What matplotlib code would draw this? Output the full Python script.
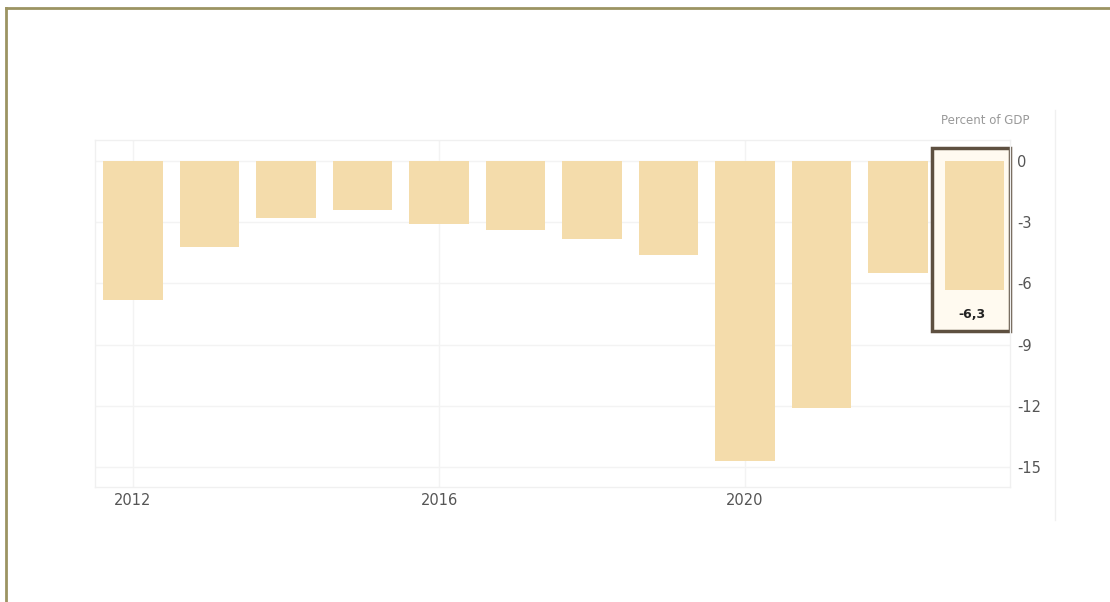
import matplotlib.pyplot as plt
from matplotlib.patches import Rectangle
from matplotlib.lines import Line2D

plt.rcParams['font.family'] = ['DejaVu Sans']

# Budget balance, percent of GDP
years = [2012, 2013, 2014, 2015, 2016, 2017, 2018, 2019, 2020, 2021, 2022, 2023]
values = [-6.8, -4.2, -2.8, -2.4, -3.1, -3.4, -3.8, -4.6, -14.7, -12.1, -5.5, -6.3]
xtick_years = [2012, 2016, 2020]
ytick_values = [0, -3, -6, -9, -12, -15]
last_label = '-6,3'

W, H = 1110, 602
fig = plt.figure(figsize=(W / 100, H / 100), dpi=100)
fig.patch.set_facecolor('white')

# axes box in pixels: x 95..1010, y 140..487
ax = fig.add_axes([95 / W, 1 - 487 / H, (1010 - 95) / W, (487 - 140) / H])
ax.set_facecolor('white')

bar_color = '#f4dcab'
ax.bar(years, values, width=0.78, color=bar_color, zorder=3)

ax.set_xlim(2011.503, 2023.464)
ax.set_ylim(-15.98, 1.03)

ax.set_xticks(xtick_years)
ax.set_xticklabels([str(y) for y in xtick_years])
ax.set_yticks(ytick_values)
ax.set_yticklabels([str(v) for v in ytick_values])
ax.yaxis.tick_right()
ax.tick_params(axis='both', length=0, labelsize=10.5, colors='#555555')
ax.tick_params(axis='y', pad=5)
ax.tick_params(axis='x', pad=4)

ax.grid(True, color='#f3f3f3', linewidth=1, zorder=0)
for s in ax.spines.values():
    s.set_color('#f0f0f0')
    s.set_linewidth(1)

# highlight box around the latest bar
last_x = years[-1]
last_v = values[-1]
box = Rectangle((last_x - 0.56, last_v - 2.05), 1.02, -last_v + 2.05 + 0.64,
                facecolor='#fffaf0', edgecolor='#5e5040', linewidth=2.5,
                zorder=2, clip_on=False)
ax.add_patch(box)
ax.text(last_x - 0.03, last_v - 1.2, last_label, ha='center', va='center',
        fontsize=9, fontweight='bold', color='#222222', zorder=5)

fig.text(985 / W, 1 - 121 / H, 'Percent of GDP', ha='center', va='center',
         fontsize=8.5, color='#999999')

# faint vertical divider right of the chart
fig.add_artist(Line2D([1055 / W, 1055 / W], [1 - 110 / H, 1 - 520 / H],
                      color='#f0f0f0', linewidth=1))

# outer frame (top and left edge)
frame_color = '#9c9462'
fig.add_artist(Line2D([6 / W, 1], [1 - 8 / H, 1 - 8 / H], color=frame_color, linewidth=2))
fig.add_artist(Line2D([6 / W, 6 / W], [1 - 8 / H, 0], color=frame_color, linewidth=2))

fig.savefig('out.png', dpi=100)
